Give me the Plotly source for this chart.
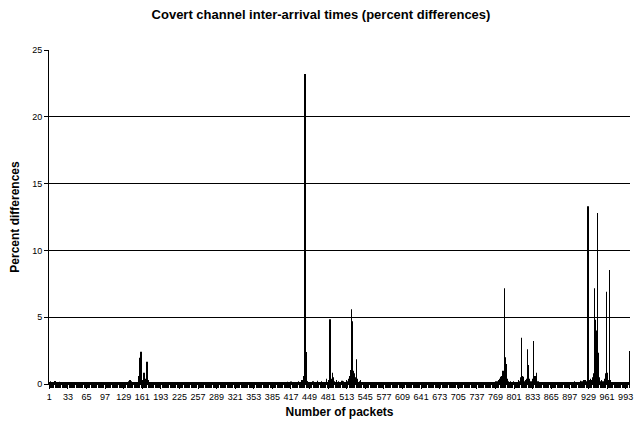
import plotly.graph_objects as go

packets = list(range(1, 1001))

pct_diff = [
    0.12, 0.08, 0.2, 0.1, 0.15, 0.09, 0.11, 0.07, 0.13, 0.1, 0.22, 0.08, 0.12, 0.06, 0.1, 0.09, 0.11, 0.17, 0.08, 0.1,
    0.09, 0.11, 0.07, 0.1, 0.12, 0.08, 0.06, 0.1, 0.11, 0.09, 0.13, 0.07, 0.1, 0.08, 0.12, 0.09, 0.06, 0.11, 0.08, 0.1,
    0.1, 0.07, 0.12, 0.09, 0.06, 0.11, 0.08, 0.13, 0.1, 0.07, 0.09, 0.12, 0.06, 0.1, 0.08, 0.11, 0.09, 0.07, 0.12, 0.1,
    0.08, 0.11, 0.06, 0.1, 0.13, 0.07, 0.09, 0.12, 0.08, 0.1, 0.06, 0.11, 0.09, 0.14, 0.07, 0.1, 0.08, 0.12, 0.09, 0.06,
    0.11, 0.09, 0.07, 0.12, 0.15, 0.08, 0.06, 0.1, 0.13, 0.09, 0.11, 0.07, 0.1, 0.08, 0.12, 0.06, 0.09, 0.11, 0.07, 0.1,
    0.07, 0.1, 0.12, 0.08, 0.09, 0.06, 0.11, 0.1, 0.13, 0.07, 0.09, 0.12, 0.08, 0.1, 0.06, 0.11, 0.09, 0.12, 0.07, 0.1,
    0.09, 0.12, 0.07, 0.1, 0.08, 0.11, 0.13, 0.09, 0.12, 0.1, 0.08, 0.14, 0.11, 0.09, 0.12, 0.15, 0.1, 0.2, 0.12, 0.3,
    0.14, 0.2, 0.1, 0.15, 0.12, 0.09, 0.11, 0.13, 0.1, 0.15, 0.12, 0.1, 0.14, 0.6, 0.2, 1.97, 0.3, 0.15, 2.42, 0.4,
    0.3, 0.15, 0.2, 0.85, 0.3, 0.4, 0.12, 0.18, 1.67, 0.4, 0.3, 0.12, 0.15, 0.1, 0.15, 0.12, 0.09, 0.11, 0.08, 0.1,
    0.1, 0.07, 0.12, 0.09, 0.06, 0.11, 0.08, 0.13, 0.1, 0.07, 0.09, 0.12, 0.06, 0.1, 0.08, 0.11, 0.09, 0.07, 0.12, 0.1,
    0.08, 0.11, 0.06, 0.1, 0.13, 0.07, 0.09, 0.12, 0.08, 0.1, 0.06, 0.11, 0.09, 0.12, 0.07, 0.1, 0.08, 0.12, 0.09, 0.06,
    0.11, 0.09, 0.07, 0.12, 0.1, 0.08, 0.06, 0.1, 0.13, 0.09, 0.11, 0.07, 0.1, 0.08, 0.12, 0.06, 0.09, 0.11, 0.07, 0.1,
    0.07, 0.1, 0.12, 0.08, 0.09, 0.06, 0.11, 0.1, 0.13, 0.07, 0.09, 0.12, 0.08, 0.1, 0.06, 0.11, 0.09, 0.12, 0.07, 0.1,
    0.09, 0.11, 0.07, 0.1, 0.12, 0.08, 0.06, 0.1, 0.11, 0.09, 0.13, 0.07, 0.1, 0.08, 0.12, 0.09, 0.06, 0.11, 0.08, 0.1,
    0.1, 0.07, 0.12, 0.09, 0.06, 0.11, 0.08, 0.13, 0.1, 0.07, 0.09, 0.12, 0.06, 0.1, 0.08, 0.11, 0.09, 0.07, 0.12, 0.1,
    0.08, 0.11, 0.06, 0.1, 0.13, 0.07, 0.09, 0.12, 0.08, 0.1, 0.06, 0.11, 0.09, 0.12, 0.07, 0.1, 0.08, 0.12, 0.09, 0.06,
    0.11, 0.09, 0.07, 0.12, 0.1, 0.08, 0.06, 0.1, 0.13, 0.09, 0.11, 0.07, 0.1, 0.08, 0.12, 0.06, 0.09, 0.11, 0.07, 0.1,
    0.07, 0.1, 0.12, 0.08, 0.09, 0.06, 0.11, 0.1, 0.13, 0.07, 0.09, 0.12, 0.08, 0.1, 0.06, 0.11, 0.09, 0.12, 0.07, 0.1,
    0.09, 0.11, 0.07, 0.1, 0.12, 0.08, 0.06, 0.1, 0.11, 0.09, 0.13, 0.07, 0.1, 0.08, 0.12, 0.09, 0.06, 0.11, 0.08, 0.1,
    0.1, 0.07, 0.12, 0.09, 0.06, 0.11, 0.08, 0.13, 0.1, 0.15, 0.09, 0.12, 0.06, 0.1, 0.08, 0.11, 0.09, 0.07, 0.12, 0.1,
    0.08, 0.11, 0.06, 0.1, 0.13, 0.07, 0.15, 0.12, 0.08, 0.1, 0.16, 0.11, 0.09, 0.12, 0.07, 0.1, 0.18, 0.12, 0.09, 0.11,
    0.12, 0.1, 0.15, 0.11, 0.13, 0.09, 0.14, 0.12, 0.1, 0.2, 0.12, 0.14, 0.11, 0.15, 0.13, 0.3, 0.2, 0.6, 0.4, 1.0,
    23.2, 13.8, 2.4, 0.5, 0.2, 0.2, 0.12, 0.15, 0.1, 0.15, 0.12, 0.14, 0.1, 0.13, 0.2, 0.11, 0.14, 0.12, 0.1, 0.15,
    0.12, 0.25, 0.1, 0.14, 0.12, 0.15, 0.11, 0.13, 0.1, 0.2, 0.12, 0.14, 0.11, 0.15, 0.13, 0.1, 0.14, 0.4, 0.12, 0.15,
    0.3, 0.12, 0.55, 4.84, 0.3, 0.4, 0.15, 0.85, 0.2, 0.5, 0.12, 0.2, 0.14, 0.11, 0.3, 0.13, 0.12, 0.15, 0.2, 0.12,
    0.14, 0.11, 0.13, 0.12, 0.25, 0.1, 0.14, 0.2, 0.12, 0.15, 0.13, 0.3, 0.12, 0.2, 0.15, 0.4, 0.2, 0.6, 0.4, 1.05,
    5.6, 1.2, 4.7, 1.0, 0.5, 0.8, 0.3, 0.5, 0.2, 1.85, 0.4, 0.3, 0.15, 0.12, 0.2, 0.14, 0.3, 0.12, 0.1, 0.13,
    0.1, 0.07, 0.12, 0.09, 0.06, 0.11, 0.08, 0.13, 0.1, 0.07, 0.09, 0.12, 0.06, 0.1, 0.08, 0.11, 0.09, 0.07, 0.12, 0.1,
    0.08, 0.11, 0.06, 0.1, 0.13, 0.07, 0.09, 0.12, 0.08, 0.1, 0.06, 0.11, 0.09, 0.12, 0.07, 0.1, 0.08, 0.12, 0.09, 0.06,
    0.11, 0.09, 0.07, 0.12, 0.1, 0.08, 0.06, 0.1, 0.13, 0.09, 0.11, 0.07, 0.1, 0.08, 0.12, 0.06, 0.09, 0.11, 0.07, 0.1,
    0.07, 0.1, 0.12, 0.08, 0.09, 0.06, 0.11, 0.1, 0.13, 0.07, 0.09, 0.12, 0.08, 0.1, 0.06, 0.11, 0.09, 0.12, 0.07, 0.15,
    0.09, 0.11, 0.07, 0.1, 0.12, 0.08, 0.06, 0.1, 0.11, 0.09, 0.13, 0.07, 0.1, 0.08, 0.12, 0.09, 0.06, 0.11, 0.08, 0.1,
    0.1, 0.07, 0.12, 0.09, 0.06, 0.11, 0.08, 0.13, 0.1, 0.07, 0.09, 0.12, 0.06, 0.1, 0.08, 0.11, 0.09, 0.07, 0.12, 0.1,
    0.08, 0.11, 0.06, 0.1, 0.13, 0.07, 0.09, 0.12, 0.08, 0.1, 0.06, 0.11, 0.09, 0.12, 0.07, 0.1, 0.08, 0.12, 0.09, 0.06,
    0.11, 0.09, 0.07, 0.12, 0.1, 0.08, 0.06, 0.1, 0.13, 0.09, 0.11, 0.07, 0.1, 0.08, 0.12, 0.06, 0.09, 0.11, 0.07, 0.15,
    0.07, 0.1, 0.12, 0.08, 0.09, 0.06, 0.11, 0.1, 0.13, 0.07, 0.09, 0.12, 0.08, 0.1, 0.06, 0.11, 0.09, 0.12, 0.07, 0.1,
    0.09, 0.11, 0.07, 0.1, 0.12, 0.08, 0.06, 0.1, 0.11, 0.09, 0.13, 0.07, 0.1, 0.08, 0.15, 0.09, 0.06, 0.11, 0.08, 0.1,
    0.1, 0.07, 0.12, 0.09, 0.06, 0.11, 0.08, 0.13, 0.1, 0.07, 0.09, 0.12, 0.15, 0.1, 0.08, 0.11, 0.09, 0.14, 0.12, 0.1,
    0.12, 0.1, 0.13, 0.11, 0.15, 0.12, 0.1, 0.14, 0.12, 0.2, 0.11, 0.2, 0.13, 0.3, 0.15, 0.4, 0.3, 0.55, 0.4, 0.6,
    0.5, 1.0, 0.7, 3.17, 7.16, 2.0, 1.5, 0.6, 0.4, 0.3, 0.15, 0.2, 0.12, 0.14, 0.2, 0.11, 0.13, 0.12, 0.15, 0.2,
    0.12, 0.14, 0.11, 0.15, 0.13, 0.1, 0.14, 0.3, 0.12, 0.2, 0.15, 0.5, 0.4, 3.47, 0.6, 0.3, 0.55, 0.2, 0.15, 0.3,
    0.14, 0.2, 0.4, 2.6, 0.5, 1.42, 0.4, 0.3, 0.15, 0.2, 0.12, 0.14, 0.4, 0.3, 3.22, 0.4, 0.6, 0.2, 0.85, 0.3,
    0.15, 0.2, 0.12, 0.1, 0.13, 0.15, 0.09, 0.11, 0.08, 0.1, 0.07, 0.12, 0.09, 0.06, 0.11, 0.08, 0.13, 0.1, 0.07, 0.09,
    0.08, 0.11, 0.06, 0.1, 0.13, 0.07, 0.09, 0.12, 0.08, 0.15, 0.06, 0.11, 0.09, 0.12, 0.07, 0.1, 0.08, 0.12, 0.09, 0.06,
    0.11, 0.09, 0.07, 0.12, 0.1, 0.08, 0.06, 0.1, 0.13, 0.15, 0.11, 0.07, 0.1, 0.08, 0.12, 0.06, 0.09, 0.11, 0.07, 0.1,
    0.1, 0.12, 0.09, 0.11, 0.2, 0.1, 0.13, 0.11, 0.12, 0.15, 0.1, 0.14, 0.12, 0.11, 0.25, 0.13, 0.12, 0.2, 0.14, 0.3,
    0.15, 0.12, 0.3, 0.14, 0.2, 0.13, 0.3, 13.3, 0.2, 0.3, 0.15, 0.2, 0.4, 0.14, 0.3, 0.5, 0.4, 0.8, 0.6, 7.16,
    4.8, 4.0, 1.0, 1.5, 12.8, 2.34, 0.4, 0.5, 0.15, 0.2, 0.14, 0.3, 0.12, 0.2, 0.15, 0.4, 0.3, 0.8, 0.4, 6.9,
    0.85, 0.5, 0.3, 0.3, 8.53, 0.3, 0.2, 0.12, 0.14, 0.15, 0.11, 0.13, 0.1, 0.12, 0.15, 0.11, 0.09, 0.12, 0.1, 0.08,
    0.11, 0.09, 0.07, 0.12, 0.1, 0.08, 0.06, 0.1, 0.13, 0.15, 0.11, 0.07, 0.1, 0.08, 0.12, 0.06, 0.09, 0.11, 0.07, 2.47,
]

tick_values = packets[::32]
tick_labels = [str(v) for v in tick_values]
y_ticks = [0, 5, 10, 15, 20, 25]

FONT = "Liberation Sans, Arial, sans-serif"

# The page body has an 8px default margin; the figure is sized so the
# plot lands where the reference puts it inside the 643x428 window.
FIG_W, FIG_H = 635, 420

fig = go.Figure(
    go.Bar(
        x=packets,
        y=pct_diff,
        width=0.45,
        marker=dict(color="black", line=dict(width=0)),
        hoverinfo="x+y",
    )
)

fig.update_layout(
    width=FIG_W,
    height=FIG_H,
    margin=dict(l=41, r=13, t=42, b=44),
    paper_bgcolor="white",
    plot_bgcolor="white",
    showlegend=False,
    font=dict(family=FONT, color="black", size=9),
    title=dict(
        text="<b>Covert channel inter-arrival times (percent differences)</b>",
        x=313 / FIG_W,
        xanchor="center",
        xref="container",
        y=1 - 6 / FIG_H,
        yref="container",
        yanchor="middle",
        font=dict(family=FONT, size=13, color="black"),
    ),
)

fig.update_xaxes(
    range=[0.5, 1000.5],
    tickmode="array",
    tickvals=tick_values,
    ticktext=tick_labels,
    tickangle=0,
    ticks="outside",
    ticklen=4,
    tickcolor="black",
    tickfont=dict(family=FONT, size=9, color="black"),
    minor=dict(ticks="outside", dtick=2, tick0=1, ticklen=3, tickcolor="black", tickwidth=1, showgrid=False),
    showline=True,
    linecolor="black",
    linewidth=1,
    showgrid=False,
    zeroline=False,
    title=dict(text="<b>Number of packets</b>", font=dict(family=FONT, size=12, color="black"), standoff=6),
    automargin=False,
)

fig.update_yaxes(
    range=[0, 25],
    tickmode="array",
    tickvals=y_ticks,
    ticks="outside",
    ticklen=4,
    tickcolor="black",
    tickfont=dict(family=FONT, size=9, color="black"),
    showline=True,
    linecolor="black",
    linewidth=1,
    showgrid=True,
    gridcolor="black",
    gridwidth=1,
    zeroline=False,
    title=dict(text="<b>Percent differences</b>", font=dict(family=FONT, size=12, color="black"), standoff=12),
    automargin=False,
)

fig.write_html("out.html")
